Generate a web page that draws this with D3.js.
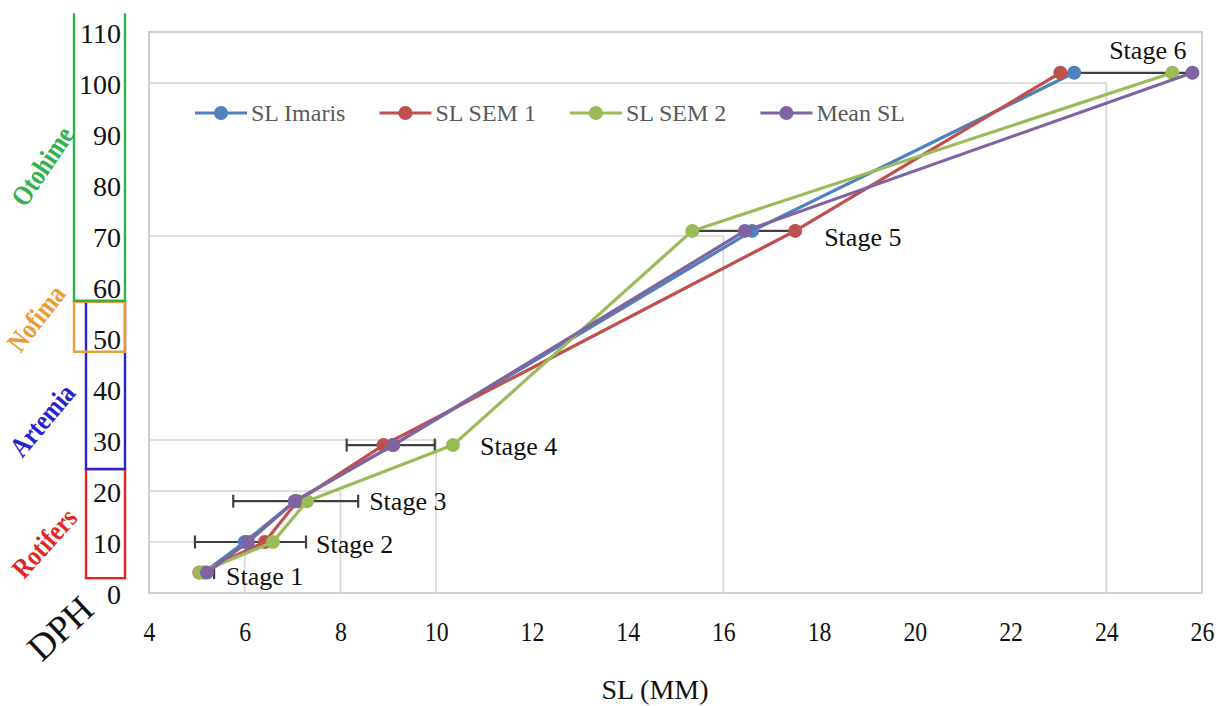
<!DOCTYPE html>
<html>
<head>
<meta charset="utf-8">
<script src="https://cdn.jsdelivr.net/npm/d3@7/dist/d3.min.js"></script>
<style>
  html, body { margin: 0; padding: 0; background: #fff; }
  svg { display: block; font-family: "Liberation Serif", "Times New Roman", serif; }
</style>
</head>
<body>
<svg id="chart" width="1228" height="706"></svg>
<script>
// ---------- data ----------
const xTicks = [4, 6, 8, 10, 12, 14, 16, 18, 20, 22, 24, 26];
const yTicks = [0, 10, 20, 30, 40, 50, 60, 70, 80, 90, 100, 110];
const stageNames = ["Stage 1", "Stage 2", "Stage 3", "Stage 4", "Stage 5", "Stage 6"];
const stageDPH = [4, 10, 18, 29, 71, 102];
const seriesNames = ["SL Imaris", "SL SEM 1", "SL SEM 2", "Mean SL"];
const slImaris = [5.15, 6.0, 7.05, 9.1, 16.6, 23.33];
const slSem1   = [5.05, 6.42, 7.1, 8.9, 17.5, 23.04];
const slSem2   = [5.06, 6.59, 7.3, 10.35, 15.35, 25.38];
const meanSL   = [5.21, 6.07, 7.05, 9.1, 16.45, 25.8];
const errLow   = [5.02, 4.96, 5.76, 8.13, 15.35, 23.04];
const errHigh  = [5.36, 7.28, 8.37, 9.97, 17.5, 25.8];
const gridX = [6, 8, 10, 16, 24];
const gridY = [10, 20, 30, 70, 100];
const feedNames = ["Rotifers", "Artemia", "Nofima", "Otohime"];
const feedStart = [2.9, 24.3, 47.3, 57.3];
const feedEnd   = [24.3, 57.1, 57.1, 113.7];
const xLabel = "SL (MM)";
const yLabel = "DPH";

// ---------- layout / style ----------
const seriesColors = ["#4F81BD", "#C0504D", "#9BBB59", "#8064A2"];
const feedColors = ["#E52420", "#2424D0", "#EB9A35", "#2DB34A"];
const feedBoxX = [[86, 125], [86, 125], [74, 125], [74, 125]];
const feedLabelPos = [[44, 543, -48], [42, 420, -50], [36, 318, -52], [42, 166, -56]];
const stageLabelOffset = [[12, 12], [10, 11], [11, 9], [27, 10], [29, 15], [-6, -14]];

const svg = d3.select("#chart");
const x = d3.scaleLinear().domain([4, 26]).range([149, 1202]);
const y = d3.scaleLinear().domain([0, 110]).range([593, 32]);

// plot border
svg.append("rect")
  .attr("x", x(4)).attr("y", y(110))
  .attr("width", x(26) - x(4)).attr("height", y(0) - y(110))
  .attr("fill", "none").attr("stroke", "#cfcfcf").attr("stroke-width", 2);

// stepped grid lines
const grid = svg.append("g").attr("stroke", "#d6d6d6").attr("stroke-width", 1.6);
gridX.forEach((gx, i) => {
  const gy = gridY[i];
  grid.append("line").attr("x1", x(4)).attr("x2", x(gx)).attr("y1", y(gy)).attr("y2", y(gy));
  grid.append("line").attr("x1", x(gx)).attr("x2", x(gx)).attr("y1", y(0)).attr("y2", y(gy));
});

// axes (labels only)
const xAxis = svg.append("g").attr("transform", `translate(0,${y(0)})`)
  .call(d3.axisBottom(x).tickValues(xTicks).tickSize(0).tickPadding(28).tickFormat(d3.format("d")));
xAxis.attr("font-family", null);
xAxis.select(".domain").remove();
xAxis.selectAll("text").attr("font-size", 28).attr("fill", "#111")
  .attr("font-family", "Liberation Serif").attr("transform", "scale(0.85,1)");

const yAxis = svg.append("g").attr("transform", `translate(${x(4)},0)`)
  .call(d3.axisLeft(y).tickValues(yTicks).tickSize(0).tickPadding(28).tickFormat(d3.format("d")));
yAxis.attr("font-family", null);
yAxis.select(".domain").remove();
yAxis.selectAll("text").attr("font-size", 28).attr("fill", "#111")
  .attr("font-family", "Liberation Serif").attr("dy", "0.36em");

// feeding boxes
feedNames.forEach((name, i) => {
  const [x0, x1] = feedBoxX[i];
  const y0 = y(feedEnd[i]), y1 = y(feedStart[i]);
  const c = feedColors[i];
  if (name === "Otohime") {
    svg.append("path").attr("d", `M${x0},${y0}V${y1}H${x1}V${y0}`)
      .attr("fill", "none").attr("stroke", c).attr("stroke-width", 2.4);
  } else {
    svg.append("rect").attr("x", x0).attr("y", y0).attr("width", x1 - x0).attr("height", y1 - y0)
      .attr("fill", "none").attr("stroke", c).attr("stroke-width", 2.4);
  }
  const [lx, ly, ang] = feedLabelPos[i];
  svg.append("text").attr("transform", `translate(${lx},${ly}) rotate(${ang}) scale(0.85,1)`)
    .attr("text-anchor", "middle").attr("dy", "0.35em")
    .attr("font-size", 28).attr("font-weight", "bold").attr("fill", c)
    .text(name);
});

// DPH label
svg.append("text").attr("transform", "translate(60,628) rotate(-43)")
  .attr("text-anchor", "middle").attr("dy", "0.35em")
  .attr("font-size", 37).attr("fill", "#111").text(yLabel);

// x label
svg.append("text").attr("x", 655).attr("y", 699)
  .attr("text-anchor", "middle").attr("font-size", 28).attr("fill", "#111").text(xLabel);

// error bars
const eb = svg.append("g").attr("stroke", "#404040").attr("stroke-width", 2.2);
stageDPH.forEach((d, i) => {
  const yy = y(d);
  eb.append("line").attr("x1", x(errLow[i])).attr("x2", x(errHigh[i])).attr("y1", yy).attr("y2", yy);
  [errLow[i], errHigh[i]].forEach(v => {
    eb.append("line").attr("x1", x(v)).attr("x2", x(v)).attr("y1", yy - 6.5).attr("y2", yy + 6.5);
  });
});

// series
const allSeries = [slImaris, slSem1, slSem2, meanSL];
const line = d3.line().x(d => x(d[0])).y(d => y(d[1]));
allSeries.forEach((vals, si) => {
  const pts = vals.map((v, i) => [v, stageDPH[i]]);
  const g = svg.append("g");
  g.append("path").datum(pts).attr("d", line)
    .attr("fill", "none").attr("stroke", seriesColors[si]).attr("stroke-width", 3.2)
    .attr("stroke-linejoin", "round");
  g.selectAll("circle").data(pts).join("circle")
    .attr("cx", d => x(d[0])).attr("cy", d => y(d[1])).attr("r", 7)
    .attr("fill", seriesColors[si]);
});

// stage labels
stageNames.forEach((s, i) => {
  const anchorX = Math.max(errHigh[i], slImaris[i], slSem1[i], slSem2[i], meanSL[i]);
  const [dx, dy] = stageLabelOffset[i];
  const t = svg.append("text").attr("font-size", 26).attr("fill", "#111").text(s);
  t.attr("x", x(anchorX) + dx).attr("y", y(stageDPH[i]) + dy);
  if (i === 5) t.attr("text-anchor", "end");
});

// legend
const legend = svg.append("g").attr("transform", "translate(195,113)");
let cx = 0;
seriesNames.forEach((n, i) => {
  const g = legend.append("g").attr("transform", `translate(${cx},0)`);
  g.append("line").attr("x1", 0).attr("x2", 52).attr("y1", 0).attr("y2", 0)
    .attr("stroke", seriesColors[i]).attr("stroke-width", 3.2);
  g.append("circle").attr("cx", 26).attr("cy", 0).attr("r", 7).attr("fill", seriesColors[i]);
  const t = g.append("text").attr("x", 56).attr("dy", "0.35em")
    .attr("font-size", 24).attr("fill", "#595959").text(n);
  cx += 56 + t.node().getComputedTextLength() + 34;
});
</script>
</body>
</html>
